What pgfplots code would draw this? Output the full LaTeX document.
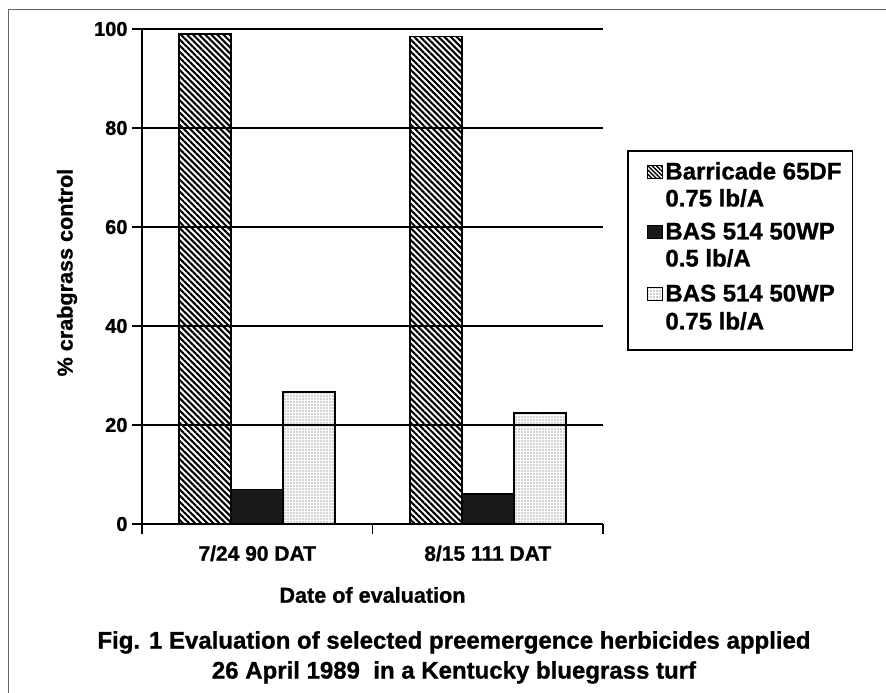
\documentclass[border=0pt]{standalone}
\usepackage{fontspec}
\setmainfont{Liberation Sans}[BoldFeatures={FakeBold=1}]
\usepackage{pgfplots}
\pgfplotsset{compat=1.18}
\usetikzlibrary{patterns.meta}
\newcommand{\fy}{\fontsize{20}{24}\selectfont\bfseries}
\newcommand{\ft}{\fontsize{21}{25}\selectfont\bfseries}
\newcommand{\fl}{\fontsize{21.6}{26}\selectfont\bfseries}
\newcommand{\fg}{\fontsize{24}{28}\selectfont\bfseries}
\newcommand{\lgent}[3]{\rule[-#3]{0pt}{\dimexpr#2+#3\relax}#1}
\begin{document}
\begin{tikzpicture}[x=1pt,y=1pt]
\useasboundingbox (0,0) rectangle (886,693);
\draw[line width=1.5pt, black!60] (8.5,0) -- (8.5,683.5) -- (886,683.5);
\begin{axis}[
  at={(142pt,169pt)}, anchor=south west,
  scale only axis, width=461pt, height=495pt,
  xmin=-0.5, xmax=1.5, ymin=0, ymax=100,
  axis x line*=bottom, axis y line*=left,
  axis line style={-, black, line width=1.8pt},
  tick style={black, line width=1.8pt},
  tick align=outside, major tick length=10pt,
  ytick={0,20,40,60,80,100},
  ymajorgrids, grid style={black, line width=1.8pt},
  xtick={-0.5,0.5,1.5}, xticklabels={},
  extra x ticks={0,1},
  extra x tick labels={7/24 90 DAT, 8/15 111 DAT},
  extra x tick style={major tick length=0pt, grid=none, tick label style={yshift=-18pt}},
  /pgf/number format/assume math mode=true,
  xticklabel style={font=\ft},
  yticklabel style={font=\fy, xshift=-1pt},
  every axis y label/.style={at={(axis description cs:-0.1627,0.508)}, rotate=90, anchor=center, font=\fl},
  every axis x label/.style={at={(axis description cs:0.5,-0.1434)}, anchor=center, font=\fl},
  ylabel={\% crabgrass control},
  xlabel={Date of evaluation},
  ybar, bar width=52pt,
  legend cell align=left,
  legend style={at={(axis description cs:1.0521,0.7556)}, anchor=north west,
    draw=black, line width=1.8pt, font=\fg, row sep=0pt, column sep=0pt,
    inner xsep=9pt, inner ysep=8pt,
    nodes={inner ysep=0pt, inner xsep=2pt, text depth=},
    cells={anchor=base west}},
]
\addplot[fill=white, draw=black, line width=1.6pt, bar shift=-52pt,
  pattern={Lines[angle=-45,distance=4.3pt,line width=2.1pt]},
  legend image code/.code={\path (-10pt,0pt); \draw[black, line width=1pt, pattern={Lines[angle=-45,distance=3pt,line width=1.4pt]}] (0pt,0.5pt) rectangle (15pt,13.5pt);}]
  coordinates {(0,99) (1,98.5)};
\addlegendentry{\lgent{Barricade 65DF}{20.6pt}{4pt}}
\addlegendimage{empty legend}
\addlegendentry{\lgent{0.75 lb/A}{23pt}{4pt}}
\addplot[fill=black!90, draw=black, line width=1.6pt, bar shift=0pt,
  legend image code/.code={\path (-10pt,0pt); \draw[black, line width=1pt, fill=black!90] (0pt,0.5pt) rectangle (15pt,13.5pt);}]
  coordinates {(0,7) (1,6)};
\addlegendentry{\lgent{BAS 514 50WP}{29pt}{4pt}}
\addlegendimage{empty legend}
\addlegendentry{\lgent{0.5 lb/A}{23pt}{4pt}}
\addplot[fill=white, draw=black, line width=1.6pt, bar shift=52pt,
  pattern={Dots[distance=3pt,radius=0.55pt]}, pattern color=black!75,
  legend image code/.code={\path (-10pt,0pt); \draw[black, line width=1pt, pattern={Dots[distance=3pt,radius=0.7pt]}, pattern color=black!75] (0pt,0.5pt) rectangle (15pt,13.5pt);}]
  coordinates {(0,26.7) (1,22.4)};
\addlegendentry{\lgent{BAS 514 50WP}{31pt}{4pt}}
\addlegendimage{empty legend}
\addlegendentry{\lgent{0.75 lb/A}{24pt}{12.4pt}}
\end{axis}
\node[anchor=base, font=\fg] at (454,44.4) {Fig. 1 Evaluation of selected preemergence herbicides applied};
\node[anchor=base, font=\fg] at (454,14.4) {26 April 1989\ \ in a Kentucky bluegrass turf};
\end{tikzpicture}
\end{document}
